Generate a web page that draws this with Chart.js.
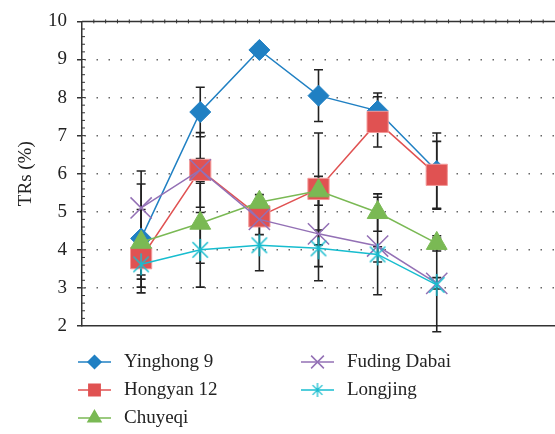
<!DOCTYPE html>
<html>
<head>
<meta charset="utf-8">
<script src="https://cdn.jsdelivr.net/npm/chart.js@4.4.0/dist/chart.umd.min.js"></script>
<style>
  html, body { margin: 0; padding: 0; background: #fff; }
  #wrap { width: 555px; height: 434px; }
</style>
</head>
<body>
<div id="wrap"><canvas id="myChart" width="555" height="434"></canvas></div>
<script>
/* global Chart */

// x positions of the six samples (axis runs 0..8, right part is empty)
const categories = [1, 2, 3, 4, 5, 6];
const yTicks = [2, 3, 4, 5, 6, 7, 8, 9, 10];

const yinghong9 = [4.30, 7.62, 9.25, 8.05, 7.65, 6.07];
const yinghong9Err = [1.43, 0.65, 0.15, 0.68, 0.47, 1.00];

const hongyan12 = [3.78, 6.10, 4.88, 5.60, 7.36, 5.97];
const hongyan12Err = [0.55, 0.98, 0.25, 1.47, 0.66, 0.88];

const chuyeqi = [4.20, 4.70, 5.25, 5.55, 4.98, 4.17];
const chuyeqiErr = [0.86, 1.05, 0.20, 0.38, 0.49, 0.20];

const fudingDabai = [5.10, 6.10, 4.80, 4.42, 4.10, 3.12];
const fudingDabaiErr = [0.97, 0.30, 0.40, 1.23, 1.28, 0.15];

const longjing = [3.62, 4.00, 4.12, 4.04, 3.88, 3.08];
const longjingErr = [0.60, 0.98, 0.67, 0.48, 0.20, 1.23];

const FONT = 'Liberation Serif';

// asterisk marker: an x plus a vertical stroke
function asterisk(size, color, lw) {
  const c = document.createElement('canvas');
  c.width = size; c.height = size;
  const g = c.getContext('2d');
  const h = size / 2, r = h - 1;
  g.strokeStyle = color;
  g.lineWidth = lw;
  g.beginPath();
  g.moveTo(h - r * 0.7, h - r * 0.7); g.lineTo(h + r * 0.7, h + r * 0.7);
  g.moveTo(h + r * 0.7, h - r * 0.7); g.lineTo(h - r * 0.7, h + r * 0.7);
  g.moveTo(h, h - r); g.lineTo(h, h + r);
  g.stroke();
  return c;
}

const series = [
  { label: 'Yinghong 9', values: yinghong9, err: yinghong9Err, color: '#2080C3',
    style: 'rectRot', radius: 10.5, legendRadius: 6.5, order: 5 },
  { label: 'Hongyan 12', values: hongyan12, err: hongyan12Err, color: '#E05252',
    style: 'rect', radius: 15, legendRadius: 8, order: 4, border: '#F39A9A' },
  { label: 'Chuyeqi', values: chuyeqi, err: chuyeqiErr, color: '#7AB954',
    style: 'triangle', radius: 12, legendRadius: 7.5, order: 3 },
  { label: 'Fuding Dabai', values: fudingDabai, err: fudingDabaiErr, color: '#9370B5',
    style: 'crossRot', radius: 15, legendRadius: 9, order: 2 },
  { label: 'Longjing', values: longjing, err: longjingErr, color: '#17BDCF',
    style: asterisk(24, '#17BDCF', 1.5), legendStyle: asterisk(16, '#17BDCF', 1.3),
    radius: 11, legendRadius: 7, order: 1 }
];

const errorBars = {
  id: 'errorBars',
  beforeDatasetsDraw(chart) {
    const { ctx, scales: { x, y } } = chart;
    ctx.save();
    ctx.strokeStyle = '#222';
    ctx.lineWidth = 1.6;
    series.forEach(function(s) {
      s.values.forEach(function(v, i) {
        const px = x.getPixelForValue(categories[i]);
        const top = y.getPixelForValue(v + s.err[i]);
        const bot = y.getPixelForValue(v - s.err[i]);
        ctx.beginPath();
        ctx.moveTo(px, top); ctx.lineTo(px, bot);
        ctx.moveTo(px - 4.5, top); ctx.lineTo(px + 4.5, top);
        ctx.moveTo(px - 4.5, bot); ctx.lineTo(px + 4.5, bot);
        ctx.stroke();
      });
    });
    ctx.restore();
  }
};

// top frame line and the small minor ticks
const frame = {
  id: 'frame',
  beforeDatasetsDraw(chart) {
    const { ctx, chartArea: a, scales: { x, y } } = chart;
    ctx.save();
    ctx.strokeStyle = '#333';
    ctx.lineWidth = 1.5;
    ctx.beginPath();
    ctx.moveTo(a.left, a.top); ctx.lineTo(a.right, a.top);
    ctx.stroke();
    ctx.lineWidth = 1;
    ctx.beginPath();
    for (let k = 1; k < 40; k++) {
      const px = x.getPixelForValue(k * 0.2);
      ctx.moveTo(px, a.top - 2); ctx.lineTo(px, a.top + 2);
    }
    for (let k = 1; k < 40; k++) {
      const py = y.getPixelForValue(2 + k * 0.2);
      ctx.moveTo(a.left, py); ctx.lineTo(a.left + 3, py);
    }
    ctx.stroke();
    ctx.restore();
  }
};

const legend = {
  id: 'customLegend',
  afterDraw(chart) {
    const ctx = chart.ctx;
    const cols = [78, 301];
    const rows = [362, 390, 418];
    const slots = [[0, 0], [0, 1], [0, 2], [1, 0], [1, 1]];
    ctx.save();
    series.forEach(function(s, i) {
      const lx = cols[slots[i][0]];
      const ly = rows[slots[i][1]];
      ctx.strokeStyle = s.color;
      ctx.fillStyle = s.color;
      ctx.lineWidth = 1.5;
      ctx.beginPath();
      ctx.moveTo(lx, ly); ctx.lineTo(lx + 33, ly);
      ctx.stroke();
      Chart.helpers.drawPoint(ctx, {
        pointStyle: s.legendStyle || s.style,
        radius: s.legendRadius,
        rotation: 0,
        borderWidth: 1.5
      }, lx + 16.5, ly);
      ctx.fillStyle = '#222';
      ctx.font = '19px "' + FONT + '"';
      ctx.textBaseline = 'middle';
      ctx.textAlign = 'left';
      ctx.fillText(s.label, lx + 46, ly);
    });
    ctx.restore();
  }
};

const ctx = document.getElementById('myChart').getContext('2d');

const chart = new Chart(ctx, {
  type: 'line',
  data: {
    datasets: series.map(function(s) {
      return {
        label: s.label,
        data: s.values.map(function(v, i) { return { x: categories[i], y: v }; }),
        borderColor: s.color,
        backgroundColor: s.color,
        borderWidth: 1.5,
        pointStyle: s.style,
        pointRadius: s.radius,
        pointHoverRadius: s.radius,
        pointBackgroundColor: s.color,
        pointBorderColor: s.border || s.color,
        pointBorderWidth: s.style === 'crossRot' ? 1.5 : 1,
        order: s.order,
        tension: 0,
        clip: false
      };
    })
  },
  options: {
    responsive: false,
    devicePixelRatio: 1,
    animation: false,
    layout: { autoPadding: false, padding: { top: 14, bottom: 108, left: 0, right: 0 } },
    plugins: {
      legend: { display: false },
      tooltip: { enabled: false }
    },
    scales: {
      x: {
        type: 'linear',
        min: 0,
        max: 8,
        ticks: { display: false },
        grid: { display: false },
        border: { display: true, color: '#333', width: 1.5 },
        afterFit: function(s) { s.height = 0; }
      },
      y: {
        min: 2,
        max: 10,
        afterBuildTicks: function(s) {
          s.ticks = yTicks.map(function(v) { return { value: v }; });
        },
        ticks: {
          color: '#222',
          padding: 10,
          font: { family: FONT, size: 19 }
        },
        grid: {
          color: function(c) {
            return (c.tick && (c.tick.value === 2 || c.tick.value === 10)) ? 'rgba(0,0,0,0)' : '#666';
          },
          lineWidth: 1.5,
          drawTicks: true,
          tickLength: 5,
          tickColor: '#333',
          tickWidth: 1.5,
          tickBorderDash: []
        },
        border: { display: true, color: '#333', width: 1.5, dash: [1.5, 10.5], dashOffset: 10 },
        title: {
          display: true,
          text: 'TRs (%)',
          color: '#222',
          font: { family: FONT, size: 19 },
          padding: { top: 15, bottom: 0 }
        },
        afterFit: function(s) { s.width = 82; }
      }
    }
  },
  plugins: [frame, errorBars, legend]
});
</script>
</body>
</html>
